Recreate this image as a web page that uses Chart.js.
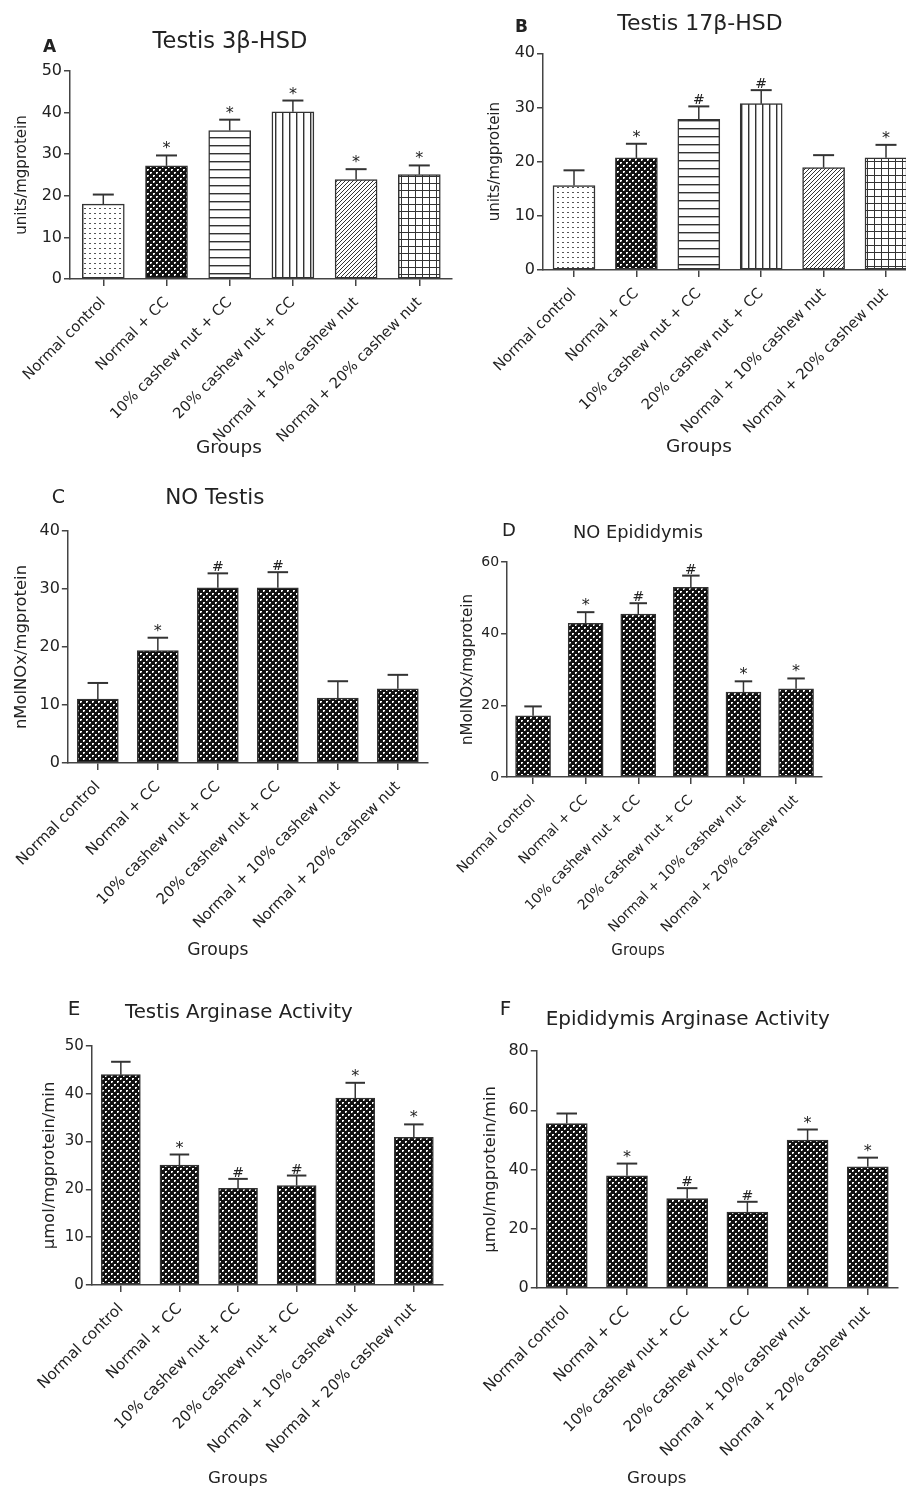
<!DOCTYPE html>
<html>
<head>
<meta charset="utf-8">
<script src="https://cdn.jsdelivr.net/npm/chart.js@4.4.1/dist/chart.umd.min.js"></script>
<style>
html, body { margin: 0; padding: 0; background: #fff; overflow: hidden; width: 906px; height: 1489px; }
canvas { position: absolute; }
</style>
</head>
<body>
<script>
const groups = ['Normal control', 'Normal + CC', '10% cashew nut + CC', '20% cashew nut + CC', 'Normal + 10% cashew nut', 'Normal + 20% cashew nut'];

// A: testis 3b-HSD
const hsd3Means = [18.0, 27.2, 35.7, 40.2, 23.9, 25.1];
const hsd3Sem = [2.3, 2.5, 2.6, 2.7, 2.5, 2.2];
const hsd3Marks = ['', '*', '*', '*', '*', '*'];
// B: testis 17b-HSD
const hsd17Means = [15.6, 20.7, 27.8, 30.7, 18.9, 20.7];
const hsd17Sem = [2.8, 2.6, 2.4, 2.5, 2.3, 2.4];
const hsd17Marks = ['', '*', '#', '#', '', '*'];
// C: NO testis
const noTestisMeans = [11.0, 19.4, 30.2, 30.2, 11.2, 12.8];
const noTestisSem = [2.8, 2.2, 2.5, 2.7, 2.9, 2.4];
const noTestisMarks = ['', '*', '#', '#', '', ''];
// D: NO epididymis
const noEpiMeans = [17.1, 42.9, 45.5, 52.9, 23.7, 24.6];
const noEpiSem = [2.6, 3.1, 3.0, 3.3, 3.0, 2.9];
const noEpiMarks = ['', '*', '#', '#', '*', '*'];
// E: testis arginase
const argTestisMeans = [44.0, 25.1, 20.2, 20.8, 39.1, 30.9];
const argTestisSem = [2.7, 2.2, 2.0, 2.1, 3.2, 2.7];
const argTestisMarks = ['', '*', '#', '#', '*', '*'];
// F: epididymis arginase
const argEpiMeans = [55.5, 37.9, 30.2, 25.6, 49.9, 40.9];
const argEpiSem = [3.4, 4.1, 3.5, 3.5, 3.6, 3.1];
const argEpiMarks = ['', '*', '#', '#', '*', '*'];

const FONT = "'DejaVu Sans', sans-serif";
Chart.defaults.font.family = FONT;
Chart.defaults.color = '#222';

function makePattern(w, h, draw) {
    const c = document.createElement('canvas');
    c.width = w;
    c.height = h;
    const g = c.getContext('2d');
    draw(g);
    return g.createPattern(c, 'repeat');
}
const dots = makePattern(5, 5, g => {
    g.fillStyle = '#fff'; g.fillRect(0, 0, 5, 5);
    g.fillStyle = '#555'; g.fillRect(0, 2, 2, 1);
});
const checker = makePattern(6, 6, g => {
    g.fillStyle = '#111'; g.fillRect(0, 0, 6, 6);
    g.fillStyle = '#fff';
    g.fillRect(0, 0, 2, 1); g.fillRect(0, 1, 1, 1);
    g.fillRect(3, 3, 2, 1); g.fillRect(3, 4, 1, 1);
    g.fillStyle = '#777'; g.fillRect(1, 1, 1, 1); g.fillRect(4, 4, 1, 1);
});
const hlines = makePattern(8, 8, g => {
    g.fillStyle = '#fff'; g.fillRect(0, 0, 8, 8);
    g.fillStyle = '#333'; g.fillRect(0, 0, 8, 1);
    g.fillStyle = '#aaa'; g.fillRect(0, 1, 8, 1);
});
const vlines = makePattern(7, 7, g => {
    g.fillStyle = '#fff'; g.fillRect(0, 0, 7, 7);
    g.fillStyle = '#333'; g.fillRect(0, 0, 1, 7);
    g.fillStyle = '#aaa'; g.fillRect(1, 0, 1, 7);
});
const diag = makePattern(4, 4, g => {
    g.fillStyle = '#fff'; g.fillRect(0, 0, 4, 4);
    g.fillStyle = '#333';
    g.fillRect(3, 0, 1, 1); g.fillRect(2, 1, 1, 1); g.fillRect(1, 2, 1, 1); g.fillRect(0, 3, 1, 1);
});
const grid = makePattern(7, 7, g => {
    g.fillStyle = '#fff'; g.fillRect(0, 0, 7, 7);
    g.fillStyle = '#333'; g.fillRect(0, 0, 7, 1); g.fillRect(0, 0, 1, 7);
});
const mixedFills = [dots, checker, hlines, vlines, diag, grid];
const darkFills = [checker, checker, checker, checker, checker, checker];

const panels = [
    {means: hsd3Means, sem: hsd3Sem, marks: hsd3Marks, fills: mixedFills,
     plot: {l: 70, t: 71, r: 452, b: 279}, c0: 103.3, step: 63.2, barW: 42,
     yMax: 50, yStep: 10, yFont: 16, xFont: 14.8, yTitle: 'units/mgprotein', yTitleSize: 15, yTitleX: 22,
     title: {text: 'Testis 3\u03B2-HSD', x: 230, y: 48, size: 22.5},
     letter: {text: 'A', x: 43, y: 52, size: 17, bold: true},
     groupsLbl: {x: 229, y: 453, size: 18.5}},
    {means: hsd17Means, sem: hsd17Sem, marks: hsd17Marks, fills: mixedFills,
     plot: {l: 543, t: 53.3, r: 912, b: 270.3}, c0: 574, step: 62.4, barW: 42,
     yMax: 40, yStep: 10, yFont: 16, xFont: 14.8, yTitle: 'units/mgprotein', yTitleSize: 15, yTitleX: 495,
     title: {text: 'Testis 17\u03B2-HSD', x: 700, y: 30, size: 22},
     letter: {text: 'B', x: 515, y: 32, size: 17, bold: true},
     groupsLbl: {x: 699, y: 452, size: 18.5}},
    {means: noTestisMeans, sem: noTestisSem, marks: noTestisMarks, fills: darkFills,
     plot: {l: 68, t: 531, r: 428, b: 763}, c0: 98, step: 60, barW: 41,
     yMax: 40, yStep: 10, yFont: 16, xFont: 15, yTitle: 'nMolNOx/mgprotein', yTitleSize: 16.4, yTitleX: 22,
     title: {text: 'NO Testis', x: 215, y: 504, size: 21.5},
     letter: {text: 'C', x: 52, y: 503, size: 19},
     groupsLbl: {x: 218, y: 955, size: 17.2}},
    {means: noEpiMeans, sem: noEpiSem, marks: noEpiMarks, fills: darkFills,
     plot: {l: 507, t: 562, r: 822, b: 777}, c0: 533, step: 52.6, barW: 35,
     yMax: 60, yStep: 20, yFont: 14, xFont: 14, yTitle: 'nMolNOx/mgprotein', yTitleSize: 15.1, yTitleX: 468,
     title: {text: 'NO Epididymis', x: 638, y: 538, size: 17.8},
     letter: {text: 'D', x: 502, y: 536, size: 18},
     groupsLbl: {x: 638, y: 955, size: 15}},
    {means: argTestisMeans, sem: argTestisSem, marks: argTestisMarks, fills: darkFills,
     plot: {l: 92, t: 1046, r: 443, b: 1285}, c0: 121, step: 58.6, barW: 39,
     yMax: 50, yStep: 10, yFont: 15, xFont: 15.3, yTitle: '\u00B5mol/mgprotein/min', yTitleSize: 16.4, yTitleX: 50,
     title: {text: 'Testis Arginase Activity', x: 239, y: 1018, size: 19.8},
     letter: {text: 'E', x: 68, y: 1015, size: 20},
     groupsLbl: {x: 238, y: 1483, size: 16.7}},
    {means: argEpiMeans, sem: argEpiSem, marks: argEpiMarks, fills: darkFills,
     plot: {l: 537, t: 1051, r: 898, b: 1288}, c0: 567, step: 60.2, barW: 41,
     yMax: 80, yStep: 20, yFont: 16, xFont: 15.3, yTitle: '\u00B5mol/mgprotein/min', yTitleSize: 16.3, yTitleX: 491,
     title: {text: 'Epididymis Arginase Activity', x: 688, y: 1025, size: 20},
     letter: {text: 'F', x: 500, y: 1015, size: 20},
     groupsLbl: {x: 657, y: 1483, size: 16.7}}
];

function buildPanel(p) {
    const left = p.yTitleX - (p.yTitleSize * 1.2 / 2 + 4);
    const top = Math.max(0, p.plot.t - 70);
    const xAxisH = 220;
    const width = Math.round(p.plot.r - left + 14);
    const height = Math.round(p.plot.b - top + xAxisH);
    const cv = document.createElement('canvas');
    cv.width = width;
    cv.height = height;
    cv.style.left = left + 'px';
    cv.style.top = top + 'px';
    document.body.appendChild(cv);

    const errorBars = {
        id: 'errorBars',
        afterDatasetsDraw(chart) {
            const ctx = chart.ctx;
            const xs = chart.scales.x, ys = chart.scales.y;
            ctx.save();
            ctx.strokeStyle = '#333';
            ctx.fillStyle = '#222';
            ctx.textAlign = 'center';
            ctx.textBaseline = 'alphabetic';
            p.means.forEach((m, i) => {
                const x = xs.getPixelForValue(i);
                const y0 = ys.getPixelForValue(m);
                const y1 = ys.getPixelForValue(m + p.sem[i]);
                ctx.lineWidth = 1.5;
                ctx.beginPath(); ctx.moveTo(x, y0); ctx.lineTo(x, y1); ctx.stroke();
                ctx.lineWidth = 2;
                ctx.beginPath(); ctx.moveTo(x - p.barW / 4, y1); ctx.lineTo(x + p.barW / 4, y1); ctx.stroke();
                if (p.marks[i]) {
                    ctx.font = (p.marks[i] == '*' ? 16 : 14) + 'px ' + FONT;
                    ctx.fillText(p.marks[i], x, y1 - 2);
                }
            });
            ctx.restore();
        }
    };
    const panelText = {
        id: 'panelText',
        afterDraw(chart) {
            const ctx = chart.ctx;
            ctx.save();
            ctx.fillStyle = '#222';
            ctx.textBaseline = 'alphabetic';
            ctx.textAlign = 'center';
            ctx.font = p.title.size + 'px ' + FONT;
            ctx.fillText(p.title.text, p.title.x - left, p.title.y - top);
            ctx.font = p.groupsLbl.size + 'px ' + FONT;
            ctx.fillText('Groups', p.groupsLbl.x - left, p.groupsLbl.y - top);
            ctx.textAlign = 'left';
            ctx.font = (p.letter.bold ? 'bold ' : '') + p.letter.size + 'px ' + FONT;
            ctx.fillText(p.letter.text, p.letter.x - left, p.letter.y - top);
            ctx.restore();
        }
    };

    return new Chart(cv, {
        type: 'bar',
        data: {
            datasets: [{
                data: p.means.map((v, i) => ({x: i, y: v})),
                backgroundColor: p.fills,
                borderColor: '#333',
                borderWidth: 1.5,
                borderSkipped: false,
                barThickness: p.barW
            }]
        },
        options: {
            responsive: false,
            animation: false,
            events: [],
            layout: {padding: {top: p.plot.t - top, right: width - p.plot.r + left, left: 0, bottom: 0}},
            plugins: {legend: {display: false}, tooltip: {enabled: false}},
            scales: {
                x: {
                    type: 'linear',
                    min: (p.plot.l - p.c0) / p.step,
                    max: (p.plot.r - p.c0) / p.step,
                    offset: false,
                    grid: {display: true, offset: false, drawOnChartArea: false, drawTicks: true, tickLength: 7, color: '#444', lineWidth: 1.5},
                    border: {display: true, color: '#444', width: 1.5},
                    afterBuildTicks: s => { s.ticks = groups.map((g, i) => ({value: i})); },
                    afterFit: s => { s.height = xAxisH; s.paddingLeft = 0; s.paddingRight = 0; },
                    ticks: {autoSkip: false, maxRotation: 45, minRotation: 45, padding: 8, color: '#222',
                            font: {size: p.xFont}, callback: v => groups[v]}
                },
                y: {
                    min: 0,
                    max: p.yMax,
                    ticks: {stepSize: p.yStep, color: '#222', font: {size: p.yFont}, padding: 2},
                    grid: {drawOnChartArea: false, tickLength: 6, color: '#444', lineWidth: 1.5},
                    border: {color: '#444', width: 1.5},
                    title: {display: true, text: p.yTitle, color: '#222', font: {size: p.yTitleSize}},
                    afterFit: s => { s.width = p.plot.l - left; }
                }
            }
        },
        plugins: [errorBars, panelText]
    });
}

for (const p of panels) buildPanel(p);
</script>
</body>
</html>
